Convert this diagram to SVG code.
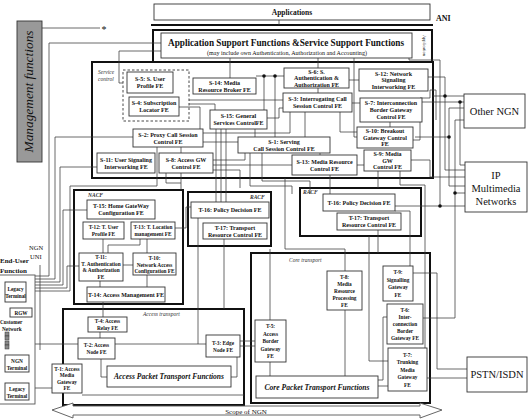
<svg xmlns="http://www.w3.org/2000/svg" width="532" height="419" viewBox="0 0 532 419">
<style>
.b{fill:#fff;stroke:#333;stroke-width:0.9}
.tb{fill:none;stroke:#111;stroke-width:2}
.c{fill:none;stroke:#3a3a3a;stroke-width:0.75}
.d{fill:#111}
text{font-family:"Liberation Serif","Times New Roman",serif;fill:#111}
.t{font-size:6px;font-weight:bold;text-anchor:middle}
.s{font-size:5.3px;font-weight:bold;text-anchor:middle}
.i{font-size:5.5px;font-style:italic;fill:#333}
.big{font-size:10.5px;text-anchor:middle}
</style>

<!-- Thick frames -->
<g id="frames">
<line x1="151" y1="25" x2="433" y2="25" stroke="#111" stroke-width="2.2"/>
<rect class="tb" x="153" y="30" width="279" height="32"/>
<rect class="tb" x="92" y="62" width="341" height="116"/>
<rect class="tb" x="74" y="190" width="109" height="114"/>
<rect class="tb" x="188" y="192" width="83" height="54"/>
<rect class="tb" x="300" y="188" width="121" height="48"/>
<rect class="tb" x="63" y="309" width="181" height="96"/>
<rect class="tb" x="251" y="253" width="179" height="150"/>
<rect x="123" y="70" width="66" height="51" fill="none" stroke="#333" stroke-width="0.9" stroke-dasharray="2.5,2"/>
</g>

<!-- Connectors -->
<g id="connectors">
<path class="c" d="M279,20V25"/>
<path class="c" d="M42,28H100"/>
<!-- left UNI bundle -->
<path class="c" d="M35,276H49V43H161"/>
<path class="c" d="M35,279H55V137H133"/>
<path class="c" d="M35,282H60V167H97"/>
<path class="c" d="M35,285H63V210H87"/>
<path class="c" d="M35,288H67V266H79"/>
<path class="c" d="M35,291H70V186H157V147"/>
<path class="c" d="M161,51H119V83H123"/>
<path class="c" d="M40,265V350"/>
<!-- service stratum -->
<path class="c" d="M230,58V78"/>
<path class="c" d="M318,58V68"/>
<path class="c" d="M256,76H284"/>
<path class="c" d="M264,76V110"/>
<path class="c" d="M275,76V137"/>
<path class="c" d="M318,88V93"/>
<path class="c" d="M189,100H283"/>
<path class="c" d="M189,104H215V110"/>
<path class="c" d="M179,107H200V129"/>
<path class="c" d="M267,118H279V108H283"/>
<path class="c" d="M203,133H290V112"/>
<path class="c" d="M203,142H238"/>
<path class="c" d="M245,153V160H213"/>
<path class="c" d="M213,165H292"/>
<path class="c" d="M213,170H240V188"/>
<path class="c" d="M255,129V137"/>
<path class="c" d="M305,112V137"/>
<path class="c" d="M320,153V155"/>
<path class="c" d="M352,103H360"/>
<path class="c" d="M340,112V132H357"/>
<path class="c" d="M390,122V127"/>
<path class="c" d="M357,165H364"/>
<path class="c" d="M354,58V137H357"/>
<path class="c" d="M359,80H345V68"/>
<path class="c" d="M409,58V60H440V206"/>
<path class="c" d="M428,77H445V170H465"/>
<path class="c" d="M433,96H464"/>
<path class="c" d="M422,102H464"/>
<path class="c" d="M460,102V165H465"/>
<path class="c" d="M415,137H449"/>
<path class="c" d="M449,108V186H465"/>
<path class="c" d="M449,108H464"/>
<path class="c" d="M455,120H464"/>
<path class="c" d="M455,120V318H423"/>
<path class="c" d="M455,193H465"/>
<path class="c" d="M395,206H465"/>
<path class="c" d="M411,160H430V177H465"/>
<path class="c" d="M413,140H420V98H430V90H436V120"/>
<!-- service to transport -->
<path class="c" d="M216,129V202"/>
<path class="c" d="M221,129V202"/>
<path class="c" d="M226,129V202"/>
<path class="c" d="M250,153V186H292V194"/>
<path class="c" d="M262,153V181H310V194"/>
<path class="c" d="M330,175V194"/>
<path class="c" d="M166,173V183H181"/>
<path class="c" d="M181,147V190"/>
<path class="c" d="M400,171V185H425V348"/>
<path class="c" d="M378,171V188"/>
<path class="c" d="M285,178V249H345V271"/>
<path class="c" d="M270,249V320"/>
<path class="c" d="M378,230V253"/>
<path class="c" d="M395,211H410V266"/>
<!-- NACF internals -->
<path class="c" d="M103,239V253"/>
<path class="c" d="M140,239V245H108V253"/>
<path class="c" d="M147,239V253"/>
<path class="c" d="M123,265H133"/>
<path class="c" d="M147,275V287"/>
<path class="c" d="M100,281V287"/>
<path class="c" d="M103,302V317"/>
<path class="c" d="M175,228H186V207H191"/>
<!-- access / core -->
<path class="c" d="M100,332V338"/>
<path class="c" d="M26,344H206"/>
<path class="c" d="M198,218V344"/>
<path class="c" d="M224,239V309"/>
<path class="c" d="M240,341H255"/>
<path class="c" d="M240,346H255"/>
<path class="c" d="M237,357V377H231"/>
<path class="c" d="M101,359V377H107"/>
<path class="c" d="M29,388H52"/>
<path class="c" d="M82,395H244"/>
<path class="c" d="M270,362V376"/>
<path class="c" d="M345,310V376"/>
<path class="c" d="M387,317H383V380H378"/>
<path class="c" d="M388,386H378"/>
<path class="c" d="M369,236V361H388"/>
<path class="c" d="M413,273H437V369H467"/>
<path class="c" d="M427,378H467"/>
<!-- end user internals -->
<path class="c" d="M15,302V308"/>
<path class="c" d="M18,317V348"/>
<path class="c" d="M9,334H18M9,338H18M9,343H18M9,347H18"/>
<path class="c" d="M22,344V355"/>
<circle class="d" cx="26" cy="344" r="1.8"/>
<circle class="d" cx="264" cy="76" r="1.8"/>
<circle class="d" cx="275" cy="76" r="1.8"/>
<circle class="d" cx="445" cy="96" r="1.8"/>
<circle class="d" cx="460" cy="102" r="1.8"/>
<circle class="d" cx="449" cy="137" r="1.8"/>
<circle class="d" cx="455" cy="193" r="1.8"/>
<circle class="d" cx="440" cy="206" r="1.8"/>
</g>

<!-- Top -->
<g id="applications"><rect class="b" x="154" y="4" width="276" height="16"/><text x="292" y="15" font-size="7.5" font-weight="bold" text-anchor="middle">Applications</text></g>
<text x="436" y="21" font-size="8" font-weight="bold">ANI</text>
<g id="management"><rect x="17" y="21" width="25" height="141" fill="#999" stroke="#333" stroke-width="0.9"/><text transform="translate(33,91.5) rotate(-90)" font-size="13" font-style="italic" text-anchor="middle" textLength="122" lengthAdjust="spacingAndGlyphs" fill="#222">Management functions</text></g>
<text x="104" y="33" font-size="10" text-anchor="middle">*</text>
<g id="app-support"><rect class="b" x="161" y="33" width="251" height="25"/>
<text x="286" y="46" font-size="9.5" font-weight="bold" text-anchor="middle" textLength="236" lengthAdjust="spacingAndGlyphs">Application Support Functions &amp;Service Support Functions</text>
<text x="287" y="54.5" font-size="5.8" text-anchor="middle" textLength="160" lengthAdjust="spacingAndGlyphs">(may include own Authentication, Authorization and Accounting)</text></g>
<text transform="translate(423,45.5) rotate(90)" font-size="4.5" text-anchor="middle" fill="#555">Application</text>
<text class="i" x="98" y="74">Service</text><text class="i" x="98" y="81">control</text>

<!-- Service stratum nodes -->
<g id="S-5"><rect class="b" x="127" y="72" width="46" height="21"/><text class="t" x="150" y="81.1">S-5: S. User</text><text class="t" x="150" y="88.1">Profile FE</text></g>
<g id="S-4"><rect class="b" x="129" y="97" width="50" height="19"/><text class="t" x="154" y="105.1" font-size="5.6">S-4: Subscription</text><text class="t" x="154" y="112.1" font-size="5.6">Locator  FE</text></g>
<g id="S-14"><rect class="b" x="193" y="78" width="63" height="16"/><text class="t" x="224.5" y="84.6">S-14: Media</text><text class="t" x="224.5" y="91.6">Resource Broker FE</text></g>
<g id="S-6"><rect class="b" x="284" y="68" width="65" height="20"/><text class="t" x="316.5" y="73.6">S-6: S.</text><text class="t" x="316.5" y="80.1">Authentication &amp;</text><text class="t" x="316.5" y="86.6">Authorization FE</text></g>
<g id="S-12"><rect class="b" x="359" y="69" width="69" height="22"/><text class="t" x="393.5" y="75.6">S-12: Network</text><text class="t" x="393.5" y="82.1">Signaling</text><text class="t" x="393.5" y="88.6">Interworking FE</text></g>
<g id="S-3"><rect class="b" x="283" y="93" width="69" height="19"/><text class="t" x="317.5" y="101.1">S-3: Interrogating Call</text><text class="t" x="317.5" y="108.1">Session Control FE</text></g>
<g id="S-7"><rect class="b" x="360" y="98" width="62" height="24"/><text class="t" x="391" y="105.1">S-7: Interconnection</text><text class="t" x="391" y="112.1">Border Gateway</text><text class="t" x="391" y="119.1">Control FE</text></g>
<g id="S-15"><rect class="b" x="210" y="110" width="57" height="19"/><text class="t" x="238.5" y="118.1">S-15: General</text><text class="t" x="238.5" y="125.1">Services ControlFE</text></g>
<g id="S-10"><rect class="b" x="357" y="127" width="56" height="21"/><text class="t" x="385" y="133.1">S-10: Breakout</text><text class="t" x="385" y="139.6">Gateway Control</text><text class="t" x="385" y="146.1">FE</text></g>
<g id="S-9"><rect class="b" x="364" y="150" width="47" height="21"/><text class="t" x="387.5" y="156.1">S-9: Media</text><text class="t" x="387.5" y="162.6">GW</text><text class="t" x="387.5" y="169.1">Control FE</text></g>
<g id="S-2"><rect class="b" x="133" y="129" width="70" height="18"/><text class="t" x="168" y="136.6">S-2: Proxy Call Session</text><text class="t" x="168" y="143.6">Control FE</text></g>
<g id="S-11"><rect class="b" x="97" y="153" width="58" height="20"/><text class="t" x="126" y="161.6">S-11: User Signaling</text><text class="t" x="126" y="168.6">Interworking FE</text></g>
<g id="S-8"><rect class="b" x="159" y="153" width="54" height="20"/><text class="t" x="186" y="161.6">S-8: Access GW</text><text class="t" x="186" y="168.6">Control FE</text></g>
<g id="S-1"><rect class="b" x="238" y="137" width="92" height="16"/><text class="t" x="284" y="143.6">S-1: Serving</text><text class="t" x="284" y="150.6">Call Session Control FE</text></g>
<g id="S-13"><rect class="b" x="292" y="155" width="65" height="20"/><text class="t" x="324.5" y="163.6">S-13: Media Resource</text><text class="t" x="324.5" y="170.6">Control FE</text></g>

<!-- Transport stratum -->
<text class="i" x="88" y="197" font-weight="bold">NACF</text>
<text class="i" x="250" y="199" font-weight="bold">RACF</text>
<text class="i" x="303" y="194" font-weight="bold">RACF</text>
<text class="i" x="143" y="316" font-size="6">Access transport</text>
<text class="i" x="289" y="262" font-size="6">Core transport</text>
<g id="T-15"><rect class="b" x="87" y="200" width="68" height="19"/><text class="t" x="121" y="208.1">T-15: Home GateWay</text><text class="t" x="121" y="215.1">Configuration FE</text></g>
<g id="T-12"><rect class="b" x="83" y="222" width="41" height="17"/><text class="s" x="103.5" y="229.1">T-12: T. User</text><text class="s" x="103.5" y="236.1">Profile FE</text></g>
<g id="T-13"><rect class="b" x="131" y="222" width="44" height="17"/><text class="s" x="153" y="229.1">T-13: T. Location</text><text class="s" x="153" y="236.1">management FE</text></g>
<g id="T-11"><rect class="b" x="79" y="253" width="44" height="28"/><text class="s" x="101" y="259.4">T-11:</text><text class="s" x="101" y="265.9">T. Authentication</text><text class="s" x="101" y="272.4">&amp; Authorization</text><text class="s" x="101" y="278.9">FE</text></g>
<g id="T-10"><rect class="b" x="133" y="253" width="43" height="22"/><text class="s" x="154.5" y="260.1">T-10:</text><text class="s" x="154.5" y="266.6">Network Access</text><text class="s" x="154.5" y="273.1">Configuration FE</text></g>
<g id="T-14"><rect class="b" x="87" y="287" width="78" height="15"/><text class="t" x="126" y="296.6">T-14: Access Management FE</text></g>
<g id="T-16a"><rect class="b" x="191" y="202" width="78" height="16"/><text class="t" x="230" y="212.1">T-16: Policy Decision FE</text></g>
<g id="T-17a"><rect class="b" x="203" y="223" width="64" height="16"/><text class="t" x="235" y="229.6">T-17:  Transport</text><text class="t" x="235" y="236.6">Resource Control FE</text></g>
<g id="T-16b"><rect class="b" x="323" y="194" width="72" height="17"/><text class="t" x="359" y="204.6">T-16: Policy Decision FE</text></g>
<g id="T-17b"><rect class="b" x="337" y="213" width="64" height="17"/><text class="t" x="369" y="220.1">T-17: Transport</text><text class="t" x="369" y="227.1">Resource Control FE</text></g>
<g id="T-4"><rect class="b" x="88" y="317" width="39" height="15"/><text class="s" x="107.5" y="323.1">T-4: Access</text><text class="s" x="107.5" y="330.1">Relay FE</text></g>
<g id="T-2"><rect class="b" x="78" y="338" width="37" height="21"/><text class="s" x="96.5" y="347.1">T-2: Access</text><text class="s" x="96.5" y="354.1">Node FE</text></g>
<g id="T-1"><rect class="b" x="52" y="364" width="30" height="29"/><text class="s" x="67" y="370.9">T-1: Access</text><text class="s" x="67" y="377.4">Media</text><text class="s" x="67" y="383.9">Gateway</text><text class="s" x="67" y="390.4">FE</text></g>
<g id="APT"><rect class="b" x="107" y="366" width="124" height="21"/><text x="169" y="379" font-size="7.5" font-weight="bold" font-style="italic" text-anchor="middle" textLength="110" lengthAdjust="spacingAndGlyphs">Access Packet Transport Functions</text></g>
<g id="T-3"><rect class="b" x="206" y="335" width="34" height="22"/><text class="s" x="223" y="344.6">T-3: Edge</text><text class="s" x="223" y="351.6">Node FE</text></g>
<g id="T-5"><rect class="b" x="255" y="320" width="31" height="42"/><text class="s" x="270.5" y="328.1">T-5:</text><text class="s" x="270.5" y="335.6">Access</text><text class="s" x="270.5" y="343.1">Border</text><text class="s" x="270.5" y="350.6">Gateway</text><text class="s" x="270.5" y="358.1">FE</text></g>
<g id="CPT"><rect class="b" x="256" y="376" width="122" height="22"/><text x="317" y="389.5" font-size="7.5" font-weight="bold" font-style="italic" text-anchor="middle" textLength="105" lengthAdjust="spacingAndGlyphs">Core Packet Transport Functions</text></g>
<g id="T-8"><rect class="b" x="327" y="271" width="35" height="39"/><text class="s" x="344.5" y="278.6">T-8:</text><text class="s" x="344.5" y="285.6">Media</text><text class="s" x="344.5" y="292.6">Resource</text><text class="s" x="344.5" y="299.6">Processing</text><text class="s" x="344.5" y="306.6">FE</text></g>
<g id="T-9"><rect class="b" x="383" y="266" width="30" height="35"/><text class="s" x="398" y="274.4">T-9:</text><text class="s" x="398" y="281.9">Signalling</text><text class="s" x="398" y="289.4">Gateway</text><text class="s" x="398" y="296.9">FE</text></g>
<g id="T-6"><rect class="b" x="387" y="304" width="36" height="40"/><text class="s" x="405" y="312.1">T-6:</text><text class="s" x="405" y="319.1">Inter-</text><text class="s" x="405" y="326.1">connection</text><text class="s" x="405" y="333.1">Border</text><text class="s" x="405" y="340.1">Gateway FE</text></g>
<g id="T-7"><rect class="b" x="388" y="348" width="39" height="43"/><text class="s" x="407.5" y="356.6">T-7:</text><text class="s" x="407.5" y="364.1">Trunking</text><text class="s" x="407.5" y="371.6">Media</text><text class="s" x="407.5" y="379.1">Gateway</text><text class="s" x="407.5" y="386.6">FE</text></g>

<!-- External networks -->
<g id="other-ngn"><rect class="b" x="464" y="94" width="61" height="34"/><text class="big" x="494.5" y="114.5">Other NGN</text></g>
<g id="ip-mm"><rect class="b" x="465" y="162" width="62" height="50"/><text class="big" x="496" y="178.5">IP</text><text class="big" x="496" y="191.5">Multimedia</text><text class="big" x="496" y="204.5">Networks</text></g>
<g id="pstn"><rect class="b" x="467" y="357" width="60" height="35"/><text class="big" x="497" y="378">PSTN/ISDN</text></g>

<!-- End-user -->
<text x="0" y="263" font-size="7" font-weight="bold">End-User</text>
<text x="0" y="272.5" font-size="7" font-weight="bold">Function</text>
<text x="29" y="250" font-size="6.5">NGN</text>
<text x="30" y="259" font-size="6.5">UNI</text>
<g id="end-user"><rect x="-2" y="275" width="37" height="129" fill="#fff" stroke="#555" stroke-width="0.9"/></g>
<g id="legacy1"><rect class="b" x="5" y="282" width="21" height="20"/><text class="s" x="15.5" y="290.5">Legacy</text><text class="s" x="15.5" y="297.5">Terminal</text></g>
<g id="rgw"><rect class="b" x="10" y="308" width="22" height="9"/><text class="s" x="21" y="314.5">RGW</text></g>
<text x="0" y="324" font-size="5.3" font-weight="bold">Customer</text>
<text x="2" y="331" font-size="5.3" font-weight="bold">Network</text>
<g id="cust-net" fill="#888" stroke="#333" stroke-width="0.5"><rect x="5" y="332" width="4" height="4"/><rect x="5" y="336" width="4" height="4"/><rect x="5" y="341" width="4" height="4"/><rect x="5" y="345" width="4" height="4"/></g>
<g id="ngn-term"><rect class="b" x="5" y="355" width="24" height="17"/><text class="s" x="17" y="362.5">NGN</text><text class="s" x="17" y="369.5">Terminal</text></g>
<g id="legacy2"><rect class="b" x="5" y="383" width="24" height="17"/><text class="s" x="17" y="390.5">Legacy</text><text class="s" x="17" y="397.5">Terminal</text></g>

<!-- Scope -->
<g id="scope"><polygon points="52,410 73,403 73,406 420,406 420,403 442,410 420,418 420,415 73,415 73,418" fill="#fff" stroke="#555" stroke-width="0.9"/><text x="246" y="413.5" font-size="7" text-anchor="middle" fill="#333">Scope of NGN</text></g>
</svg>
